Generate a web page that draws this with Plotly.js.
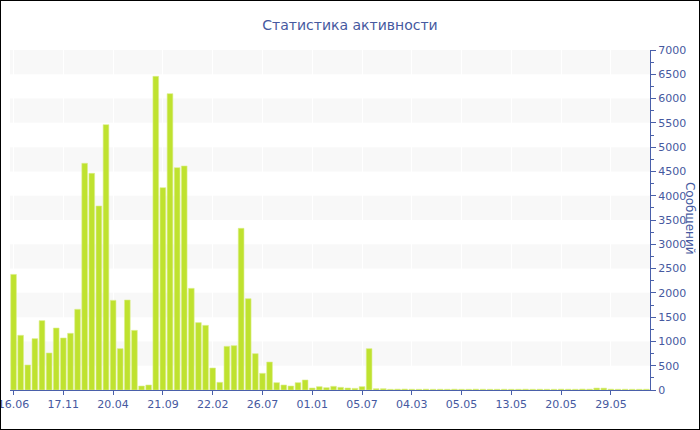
<!DOCTYPE html>
<html>
<head>
<meta charset="utf-8">
<script src="https://cdn.plot.ly/plotly-3.0.1.min.js"></script>
<style>
  html, body { margin: 0; padding: 0; background: #fff; }
  #wrap { width: 698px; height: 428px; border: 1px solid #000; overflow: hidden; }
  #chart { width: 698px; height: 428px; }
</style>
</head>
<body>
<div id="wrap"><div id="chart"></div></div>
<script>
// ---- data ----
const chartTitle = "Статистика активности";
const yTitle = "Сообщений";
const tickLabels = ["16.06", "17.11", "20.04", "21.09", "22.02", "26.07", "01.01",
                    "05.07", "04.03", "05.05", "13.05", "20.05", "29.05"];
const messages = [
  2380, 1126, 515, 1057, 1428, 762, 1276, 1071, 1167, 1661,
  4667, 4461, 3788, 5463, 1846, 851, 1853, 1228, 82, 103,
  6458, 4166, 6101, 4578, 4612, 2093, 1387, 1331, 453, 158,
  899, 913, 3329, 1880, 748, 343, 576, 151, 103, 82,
  151, 206, 41, 69, 48, 76, 55, 41, 34, 69,
  851, 27, 27, 15, 18, 20, 16, 15, 18, 15,
  16, 15, 17, 15, 15, 18, 16, 15, 15, 16,
  15, 15, 17, 15, 16, 15, 15, 18, 16, 15,
  20, 18, 40, 38, 18, 15, 16, 15, 15, 16
];
const barsPerTick = 7;

// ---- build ----
const xIdx = messages.map((_, i) => i);
const tickVals = tickLabels.map((_, i) => i * barsPerTick);

const textColor = "#4659a0";
const axisColor = "#4a60aa";

const bands = [];
for (let v = 500; v < 7000; v += 1000) {
  bands.push({
    type: "rect", xref: "paper", yref: "y", x0: 0, x1: 1, y0: v, y1: v + 500,
    fillcolor: "#f8f8f8", line: { width: 0 }, layer: "below"
  });
}

const trace = {
  type: "bar",
  x: xIdx,
  y: messages,
  marker: { color: "#bfe22f", line: { color: "#dcef8c", width: 0.6 } },
  hoverinfo: "y"
};

const layout = {
  width: 698, height: 428,
  margin: { l: 9, r: 49, t: 49, b: 39 },
  paper_bgcolor: "#ffffff",
  plot_bgcolor: "#ffffff",
  font: { family: "DejaVu Sans, Verdana, sans-serif", size: 11, color: textColor },
  title: {
    text: chartTitle,
    font: { family: "DejaVu Sans, Verdana, sans-serif", size: 14, color: textColor },
    x: 0.5, xanchor: "center",
    yref: "container", y: 1 - 24 / 428, yanchor: "middle"
  },
  bargap: 0.2,
  showlegend: false,
  xaxis: {
    range: [-0.5, messages.length - 0.5],
    tickmode: "array",
    tickvals: tickVals,
    ticktext: tickLabels,
    ticklabeloverflow: "allow",
    ticks: "outside", ticklen: 4, tickcolor: axisColor,
    showline: true, linecolor: axisColor, linewidth: 1,
    showgrid: true, gridcolor: "#ffffff", gridwidth: 1,
    zeroline: false,
    tickfont: { size: 11, color: textColor },
    fixedrange: true
  },
  yaxis: {
    side: "right",
    range: [0, 7000],
    dtick: 500, tick0: 0,
    ticks: "outside", ticklen: 5, tickcolor: axisColor,
    minor: { dtick: 250, ticks: "outside", ticklen: 3, tickcolor: axisColor, showgrid: false },
    showline: true, linecolor: axisColor, linewidth: 1,
    showgrid: false, zeroline: false,
    tickfont: { size: 11, color: textColor },
    fixedrange: true
  },
  shapes: bands,
  annotations: [{
    text: yTitle, textangle: 90,
    xref: "paper", yref: "paper", x: 1.0625, y: 0.506,
    xanchor: "center", yanchor: "middle", showarrow: false,
    font: { size: 12, color: textColor }
  }]
};

Plotly.newPlot("chart", [trace], layout, { displayModeBar: false, staticPlot: true });
</script>
</body>
</html>
